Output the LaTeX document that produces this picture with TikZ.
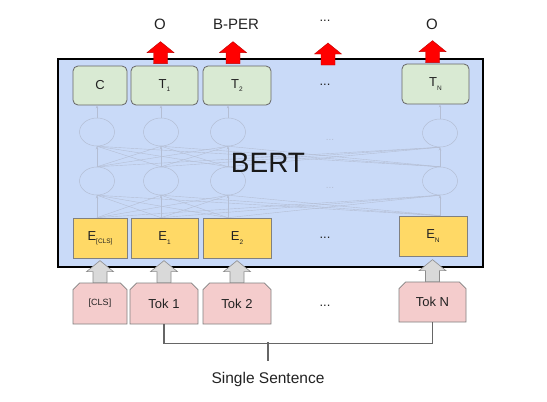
\documentclass[tikz,border=0pt]{standalone}
\usepackage{fontspec}
\setmainfont{Liberation Sans}
\usetikzlibrary{shapes.misc,shapes.geometric,arrows.meta,calc}
\definecolor{bertbg}{HTML}{C9DAF8}
\definecolor{tgreen}{HTML}{D9EAD3}
\definecolor{eyellow}{HTML}{FFD966}
\definecolor{tokpink}{HTML}{F4CCCC}
\definecolor{arrgray}{HTML}{D9D9D9}
\definecolor{faint}{RGB}{180,190,212}
\definecolor{txt}{HTML}{222222}
\newcommand\mysub[1]{\raisebox{-0.5ex}{\fontsize{6.5}{6.5}\selectfont #1}}
\begin{document}
\begin{tikzpicture}[x=1pt,y=-1pt,
  boxfont/.style={font=\fontsize{13}{13}\selectfont, text=txt},
  tbox/.style={boxfont, draw=black!60, line width=0.8pt, fill=tgreen, rounded corners=5pt, inner sep=0pt, minimum height=39pt},
  ebox/.style={boxfont, draw=black!50, line width=0.7pt, fill=eyellow, inner sep=0pt, minimum height=40pt},
  tokbox/.style={boxfont, chamfered rectangle, chamfered rectangle corners={north west,north east}, chamfered rectangle xsep=3pt, draw=black!50, line width=0.7pt, fill=tokpink, inner sep=0pt, minimum height=41pt},
  circ/.style={ellipse, draw=faint, line width=0.5pt, minimum width=35pt, minimum height=28pt, inner sep=0pt},
  faintline/.style={draw=faint, line width=0.4pt},
  faintarr/.style={faintline, -{Stealth[length=3pt,width=2.5pt]}},
  lab/.style={font=\fontsize{15}{15}\selectfont, text=txt},
  dots/.style={font=\fontsize{13}{13}\selectfont, text=txt},
  blockup/.pic={\path[pic actions] (-7,0) -- (-7,-11) -- (-13.5,-11) -- (0,-22) -- (13.5,-11) -- (7,-11) -- (7,0) -- cycle;},
  redarr/.style={fill=red, draw=red!75!black, line width=0.4pt},
  grayarr/.style={fill=arrgray, draw=black!45, line width=0.6pt},
  bracket/.style={draw=black!60, line width=1.1pt}
]
\useasboundingbox (0,0) rectangle (547,402);
% main BERT box
\node[draw=black, line width=1.8pt, fill=bertbg, minimum width=425pt, minimum height=208pt, inner sep=0pt] (bert) at (270.5,163) {};

% network circles
\node[circ] (c10) at (97,132) {};
\node[circ] (c11) at (161,132) {};
\node[circ] (c12) at (228,132) {};
\node[circ] (c13) at (440,133) {};
\node[circ] (c20) at (97,181) {};
\node[circ] (c21) at (161,181) {};
\node[circ] (c22) at (228,181) {};
\node[circ] (c23) at (440,181) {};
\node[text=faint, font=\fontsize{10}{10}\selectfont] (fd1) at (330,140) {...};
\node[text=faint, font=\fontsize{10}{10}\selectfont] (fd2) at (330,188) {...};

% boxes
\node[tbox, minimum width=54pt] (t0) at (100,85.5) {C};
\node[tbox, minimum width=67pt] (t1) at (164.5,85.5) {T\mysub{1}};
\node[tbox, minimum width=68pt] (t2) at (237,85.5) {T\mysub{2}};
\node[dots] (td) at (325,85) {...};
\node[tbox, minimum width=67pt, minimum height=40pt] (t3) at (435.5,84) {T\mysub{N}};

\node[ebox, minimum width=54pt] (e0) at (100,238) {E\mysub{[CLS]}};
\node[ebox, minimum width=67pt] (e1) at (164.5,238) {E\mysub{1}};
\node[ebox, minimum width=68pt] (e2) at (237,238) {E\mysub{2}};
\node[dots] (ed) at (325,238) {...};
\node[ebox, minimum width=68pt] (e3) at (433,236) {E\mysub{N}};

\node[tokbox, minimum width=54pt, font=\fontsize{9}{9}\selectfont] (k0) at (100,303.5) {[CLS]};
\node[tokbox, minimum width=68pt] (k1) at (164,303.5) {Tok 1};
\node[tokbox, minimum width=68pt] (k2) at (237,303.5) {Tok 2};
\node[dots] (kd) at (325,306) {...};
\node[tokbox, minimum width=67pt, minimum height=40pt] (k3) at (432.5,302) {Tok N};

% network connections
\foreach \i in {0,1,2,3}{
  \draw[faintarr] (c2\i.south |- e\i.north) -- (c2\i.south);
  \draw[faintarr] (c2\i.north) -- (c1\i.south);
  \draw[faintarr] (c1\i.north) -- (c1\i.north |- t\i.south);
  \foreach \j in {0,1,2,3}{
    \ifnum\i=\j\else
      \draw[faintline] (c2\i.south |- e\i.north) -- (c2\j.south);
      \draw[faintline] (c2\i.north) -- (c1\j.south);
    \fi
  }
}

\node[font=\fontsize{28}{28}\selectfont, text=black!90] (bertlab) at (268,163) {BERT};

% output arrows and labels
\coordinate (tdtop) at (328,65);
\pic[redarr] at ($(t1.north)+(-4,-2)$) {blockup};
\pic[redarr] at ($(t2.north)+(-4,-2)$) {blockup};
\pic[redarr] at (tdtop) {blockup};
\pic[redarr] at ($(t3.north)+(-3,-1)$) {blockup};
\node[lab] (o1) at (160,24) {O};
\node[lab] (o2) at (236,24) {B-PER};
\node[dots] (o3) at (325,21) {...};
\node[lab] (o4) at (432,24) {O};

% input arrows
\foreach \i in {0,1,2,3}{
  \pic[grayarr] at (k\i.north) {blockup};
}

% sentence bracket
\coordinate (brL) at ($(k1.south)+(0,19)$);
\coordinate (brR) at (k3.south |- brL);
\coordinate (brM) at (268,342);
\draw[bracket] (k1.south) -- (brL) -- (brR) -- (k3.south);
\node[lab, font=\fontsize{15.5}{15.5}\selectfont] (sent) at (268,379) {Single Sentence};
\draw[bracket] (brM) -- ($(brM)+(0,19)$);
\end{tikzpicture}
\end{document}
